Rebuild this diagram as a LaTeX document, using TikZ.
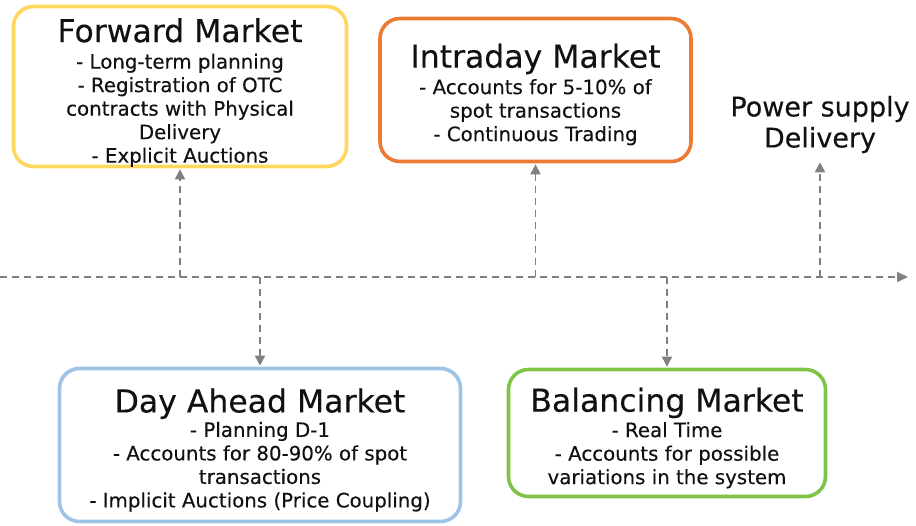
\documentclass[tikz,border=0pt]{standalone}
\usepackage{fontspec}
\setmainfont{DejaVu Sans}[FakeBold=0.25]
\usetikzlibrary{arrows.meta}
\definecolor{cyel}{HTML}{FFD75E}
\definecolor{corg}{HTML}{EC7A32}
\definecolor{cblu}{HTML}{9DC3E6}
\definecolor{cgrn}{HTML}{80C447}
\definecolor{cgry}{HTML}{808080}
\definecolor{ctxt}{HTML}{111111}
\newcommand{\ttlf}{\fontsize{31.5}{34}\selectfont}
\newcommand{\bdyf}{\fontsize{19.8}{23.5}\selectfont}
\tikzset{
  mbox/.style={draw, line width=3.6pt, rounded corners=20pt, fill=white, inner sep=0pt},
  mtext/.style={align=center, text=ctxt, font=\bdyf, inner sep=0pt},
  tline/.style={draw=cgry, line width=1.7pt, dash pattern=on 7pt off 5pt,
    -{Triangle[length=11pt,width=10pt]}},
  vline/.style={draw=cgry, line width=1.7pt, dash pattern=on 7pt off 5pt,
    -{Triangle[length=10pt,width=10pt]}, shorten >=1pt},
}
\begin{document}
\begin{tikzpicture}[x=1pt,y=-1pt]
\useasboundingbox (0,0) rectangle (916,526);

% boxes
\node[mbox, draw=cyel, minimum width=333pt, minimum height=160pt] (fwd) at (180,86.5) {};
\node[mtext, yshift=-6pt] (fwdt) at (fwd.center)
  {{\ttlf Forward Market}\\[3pt]
   - Long-term planning\\
   - Registration of OTC\\
   contracts with Physical\\
   Delivery\\
   - Explicit Auctions};

\node[mbox, draw=corg, minimum width=311pt, minimum height=143pt] (intra) at (535.5,90) {};
\node[mtext, yshift=-4.5pt] (intrat) at (intra.center)
  {{\ttlf Intraday Market}\\[3pt]
   - Accounts for 5-10\% of\\
   spot transactions\\
   - Continuous Trading};

\node[mbox, draw=cblu, minimum width=401pt, minimum height=153pt] (dam) at (260,445) {};
\node[mtext, yshift=-5pt] (damt) at (dam.center)
  {{\ttlf Day Ahead Market}\\[1pt]
   - Planning D-1\\
   - Accounts for 80-90\% of spot\\
   transactions\\
   - Implicit Auctions (Price Coupling)};

\node[mbox, draw=cgrn, minimum width=317pt, minimum height=127pt] (bal) at (667,433) {};
\node[mtext, yshift=-5pt] (balt) at (bal.center)
  {{\ttlf Balancing Market}\\[2pt]
   - Real Time\\
   - Accounts for possible\\
   variations in the system};

\node[align=center, text=ctxt, font=\fontsize{27}{31}\selectfont, inner xsep=0pt, inner ysep=8pt] (ps) at (820,124.5)
  {Power supply\\Delivery};

% timeline
\coordinate (tstart) at (0,277);
\coordinate (tend) at (908,277);
\coordinate (tf) at (180,277);
\coordinate (ti) at (535.5,277);
\coordinate (tp) at (820,277);
\coordinate (td) at (260,277);
\coordinate (tb) at (667,277);

\draw[tline] (tstart) -- (tend);
\draw[vline] (tf) -- (fwd.south);
\draw[vline] (ti) -- (intra.south);
\draw[vline] (tp) -- (ps.south);
\draw[vline] (td) -- (dam.north);
\draw[vline] (tb) -- (bal.north);
\end{tikzpicture}
\end{document}
